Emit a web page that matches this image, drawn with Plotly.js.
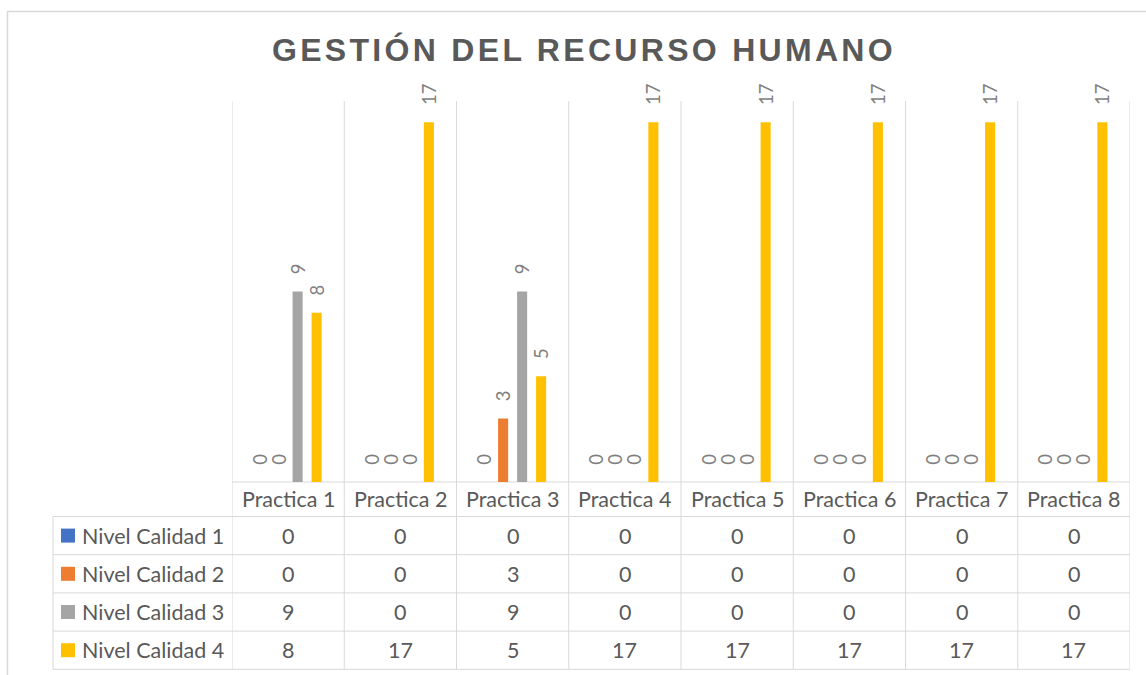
<!DOCTYPE html>
<html>
<head>
<meta charset="utf-8">
<script src="https://cdn.plot.ly/plotly-3.0.1.min.js"></script>
<style>
  html, body { margin: 0; padding: 0; background: #ffffff; }
  #chart { width: 1146px; height: 675px; }
  .gtitle { letter-spacing: 3.3px; }
</style>
</head>
<body>
<div id="chart"></div>
<script>
// ---- data ----
const categories = ['Practica 1', 'Practica 2', 'Practica 3', 'Practica 4', 'Practica 5', 'Practica 6', 'Practica 7', 'Practica 8'];
const seriesNames = ['Nivel Calidad 1', 'Nivel Calidad 2', 'Nivel Calidad 3', 'Nivel Calidad 4'];
const nivel1 = [0, 0, 0, 0, 0, 0, 0, 0];
const nivel2 = [0, 0, 3, 0, 0, 0, 0, 0];
const nivel3 = [9, 0, 9, 0, 0, 0, 0, 0];
const nivel4 = [8, 17, 5, 17, 17, 17, 17, 17];
const seriesColors = ['#4472C4', '#ED7D31', '#A5A5A5', '#FFC000'];
const chartTitle = 'GESTIÓN DEL RECURSO HUMANO';

const seriesValues = [nivel1, nivel2, nivel3, nivel4];

// ---- layout geometry (pixels) ----
const W = 1146, H = 675;
const plotL = 232, plotR = 1130, plotT = 101, plotB = 482;
const pw = plotR - plotL, ph = plotB - plotT;
const px2x = p => (p - plotL) / pw;
const px2y = p => (plotB - p) / ph;
const headerMid = 499;
const rowTop = 516.5, rowH = 38.2;
const tableLeft = 53;
const tableBottom = rowTop + rowH * seriesNames.length;
const gridColor = '#d9d9d9';
const textColor = '#595959';
const FONT = 'Lato, "Open Sans", sans-serif';
const TABLE_SIZE = 21.5;

const traces = seriesValues.map((vals, s) => ({
  type: 'bar',
  name: seriesNames[s],
  x: categories,
  y: vals,
  marker: { color: seriesColors[s] },
  texttemplate: '\u00a0\u00a0\u00a0%{y}',
  textposition: 'outside',
  textangle: -90,
  constraintext: 'none',
  cliponaxis: false,
  textfont: { family: FONT, size: 18.5, color: '#7f7f7f' },
  hoverinfo: 'skip',
  showlegend: false
}));

const shapes = [];
const line = (x0, y0, x1, y1, xref, yref) => ({
  type: 'line', x0, y0, x1, y1, xref, yref,
  line: { color: gridColor, width: 1 }, layer: 'below'
});
// chart border
shapes.push({ type: 'rect', xref: 'paper', yref: 'paper',
  x0: px2x(7.5), x1: px2x(1160), y0: px2y(690), y1: px2y(11.5),
  line: { color: gridColor, width: 1.5 }, layer: 'below' });
// vertical category boundaries (through plot and table)
for (let i = 0; i <= categories.length; i++) {
  shapes.push(line(i - 0.5, px2y(tableBottom), i - 0.5, px2y(plotT), 'x', 'paper'));
}
// axis line
shapes.push(line(0, 0, 1, 0, 'paper', 'paper'));
// table row lines
for (let r = 0; r <= seriesNames.length; r++) {
  const y = px2y(rowTop + rowH * r);
  shapes.push(line(px2x(tableLeft), y, 1, y, 'paper', 'paper'));
}
// table left border
shapes.push(line(px2x(tableLeft), px2y(rowTop), px2x(tableLeft), px2y(tableBottom), 'paper', 'paper'));
// legend keys
seriesNames.forEach((n, s) => {
  const cy = rowTop + rowH * (s + 0.5);
  shapes.push({ type: 'rect', xref: 'paper', yref: 'paper',
    x0: px2x(61), x1: px2x(75), y0: px2y(cy + 7), y1: px2y(cy - 7),
    fillcolor: seriesColors[s], line: { width: 0 } });
});

const annotations = [];
categories.forEach(c => {
  annotations.push({ x: c, xref: 'x', y: px2y(headerMid), yref: 'paper',
    text: c, showarrow: false, yanchor: 'middle', xanchor: 'center',
    font: { family: FONT, size: TABLE_SIZE, color: textColor } });
});
seriesValues.forEach((vals, s) => {
  const cy = rowTop + rowH * (s + 0.5);
  annotations.push({ x: px2x(80), xref: 'paper', y: px2y(cy), yref: 'paper',
    text: seriesNames[s], showarrow: false, xanchor: 'left', yanchor: 'middle',
    font: { family: FONT, size: TABLE_SIZE, color: textColor } });
  vals.forEach((v, i) => {
    annotations.push({ x: categories[i], xref: 'x', y: px2y(cy), yref: 'paper',
      text: String(v), showarrow: false, xanchor: 'center', yanchor: 'middle',
      font: { family: FONT, size: TABLE_SIZE, color: textColor } });
  });
});

const layout = {
  width: W, height: H,
  margin: { l: plotL, r: W - plotR, t: plotT, b: H - plotB, pad: 0 },
  paper_bgcolor: '#ffffff', plot_bgcolor: '#ffffff',
  title: {
    text: chartTitle,
    font: { family: '"Liberation Sans", Arial, sans-serif', size: 32, color: textColor, weight: 'bold' },
    xref: 'container', yref: 'container',
    x: 584 / W, xanchor: 'center',
    y: 1 - 50 / H, yanchor: 'middle'
  },
  barmode: 'group',
  bargap: 0.323,
  bargroupgap: 0.47,
  xaxis: { type: 'category', range: [-0.5, categories.length - 0.5],
    showgrid: false, showline: false, zeroline: false, showticklabels: false, ticks: '', fixedrange: true },
  yaxis: { range: [0, 18], visible: false, showgrid: false, zeroline: false, fixedrange: true },
  shapes, annotations,
  showlegend: false
};

Plotly.newPlot('chart', traces, layout, { displayModeBar: false, staticPlot: true });
</script>
</body>
</html>
